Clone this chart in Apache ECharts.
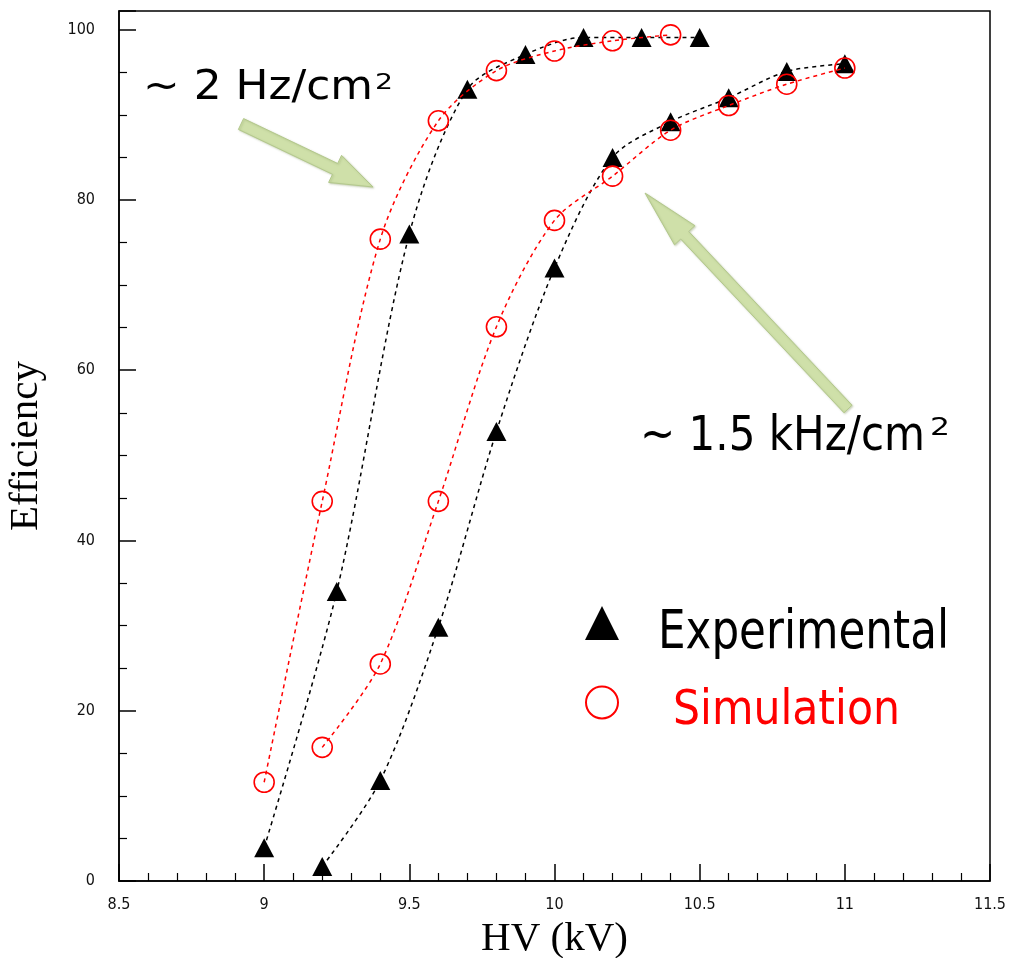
<!DOCTYPE html>
<html>
<head>
<meta charset="utf-8">
<script src="https://cdn.jsdelivr.net/npm/echarts@6/dist/echarts.min.js"></script>
<style>
html,body{margin:0;padding:0;background:#fff;overflow:hidden;}
#chart{width:1011px;height:958px;}
</style>
</head>
<body>
<div id="chart"></div>
<script>
// ---- data ----
const xTicks = ['8.5', '9', '9.5', '10', '10.5', '11', '11.5'];
const yTicks = ['0', '20', '40', '60', '80', '100'];

// ~2 Hz/cm2 rate
const hvExpLow  = [9.0, 9.25, 9.5, 9.7, 9.9, 10.1, 10.3, 10.5];
const effExpLow = [3.9, 34.0, 76.0, 93.0, 97.1, 99.1, 99.1, 99.1];
const hvSimLow  = [9.0, 9.2, 9.4, 9.6, 9.8, 10.0, 10.2, 10.4];
const effSimLow = [11.6, 44.6, 75.4, 89.3, 95.2, 97.5, 98.7, 99.4];

// ~1.5 kHz/cm2 rate
const hvExpHigh  = [9.2, 9.4, 9.6, 9.8, 10.0, 10.2, 10.4, 10.6, 10.8, 11.0];
const effExpHigh = [1.7, 11.8, 29.8, 52.8, 72.0, 85.0, 89.2, 92.0, 95.1, 96.0];
const hvSimHigh  = [9.2, 9.4, 9.6, 9.8, 10.0, 10.2, 10.4, 10.6, 10.8, 11.0];
const effSimHigh = [15.7, 25.5, 44.6, 65.1, 77.6, 82.8, 88.2, 91.1, 93.6, 95.5];

const labelLow  = '~ 2 Hz/cm';
const labelHigh = '~ 1.5 kHz/cm';
const labelSup  = '2';
const legendExp = 'Experimental';
const legendSim = 'Simulation';

// ---- helpers ----
const zip = (xs, ys) => xs.map((x, i) => [x, ys[i]]);
const TXT_FONT = '"DejaVu Sans", "Noto Sans", sans-serif';
const mctx = document.createElement('canvas').getContext('2d');
function fitText(text, size, left, baseline, targetW, color) {
  mctx.font = size + 'px ' + TXT_FONT;
  const w = mctx.measureText(text).width;
  return {
    type: 'text', x: left, y: baseline - 0.33 * size,
    scaleX: targetW / w, z: 50,
    style: { text: text, fill: color, font: size + 'px ' + TXT_FONT,
             textAlign: 'left', textVerticalAlign: 'middle' }
  };
}
function arrow(tail, tip, shaftW, headW, headL) {
  const dx = tip[0] - tail[0], dy = tip[1] - tail[1];
  const L = Math.hypot(dx, dy), ux = dx / L, uy = dy / L, nx = -uy, ny = ux;
  const bx = tip[0] - ux * headL, by = tip[1] - uy * headL;
  const p = (x, y, s) => [x + nx * s, y + ny * s];
  const pts = [
    p(tail[0], tail[1], shaftW / 2), p(bx, by, shaftW / 2), p(bx, by, headW / 2),
    tip,
    p(bx, by, -headW / 2), p(bx, by, -shaftW / 2), p(tail[0], tail[1], -shaftW / 2)
  ];
  return {
    type: 'polygon', z: 40,
    shape: { points: pts },
    style: { fill: '#cfe0a9', stroke: '#b3c88c', lineWidth: 1,
             shadowColor: 'rgba(120,140,80,0.35)', shadowBlur: 2, shadowOffsetX: 1, shadowOffsetY: 1 }
  };
}

const chart = echarts.init(document.getElementById('chart'), null, { renderer: 'canvas' });

const tickFont = { fontFamily: '"Liberation Sans Narrow", "DejaVu Sans Condensed", sans-serif', fontSize: 16, color: '#111' };

const expLine = { color: '#000', width: 1.5, type: [4, 4] };
const simLine = { color: '#ff0000', width: 1.5, type: [4, 4] };
const expItem = { color: '#000' };
const simItem = { color: 'rgba(0,0,0,0)', borderColor: '#ff0000', borderWidth: 1.6 };

const option = {
  backgroundColor: '#fff',
  animation: false,
  grid: { left: 119, right: 21, top: 11, bottom: 77, outerBoundsMode: 'none', containLabel: false,
          show: true, borderColor: '#000', borderWidth: 1.5, backgroundColor: 'transparent' },
  xAxis: {
    type: 'value', min: 8.5, max: 11.5, interval: 0.5,
    name: 'HV (kV)', nameLocation: 'middle', nameGap: 38,
    nameTextStyle: { fontFamily: '"Liberation Serif", serif', fontSize: 41, color: '#000' },
    axisLine: { show: true, lineStyle: { color: '#000', width: 1.5 } },
    axisTick: { show: true, inside: true, length: 17, lineStyle: { color: '#000', width: 1.5 } },
    minorTick: { show: true, splitNumber: 5, length: 8, lineStyle: { color: '#000', width: 1.2 } },
    splitLine: { show: false },
    axisLabel: Object.assign({ margin: 16, formatter: v => {
      const i = Math.round((v - 8.5) / 0.5);
      return Math.abs(v - (8.5 + i * 0.5)) < 1e-6 ? xTicks[i] : '';
    } }, tickFont)
  },
  yAxis: {
    type: 'value', min: 0, max: 102.2, interval: 20,
    name: 'Efficiency', nameLocation: 'middle', nameGap: 72,
    nameTextStyle: { fontFamily: '"Liberation Serif", serif', fontSize: 41, color: '#000' },
    axisLine: { show: true, lineStyle: { color: '#000', width: 1.5 } },
    axisTick: { show: true, inside: true, length: 17, lineStyle: { color: '#000', width: 1.5 } },
    minorTick: { show: true, splitNumber: 4, length: 8, lineStyle: { color: '#000', width: 1.2 } },
    splitLine: { show: false },
    axisLabel: Object.assign({ margin: 24, showMaxLabel: false, formatter: v => {
      const i = Math.round(v / 20);
      return Math.abs(v - i * 20) < 1e-6 && i < yTicks.length ? yTicks[i] : '';
    } }, tickFont)
  },
  series: [
    { name: legendExp, type: 'line', data: zip(hvExpLow, effExpLow), smooth: 0.3,
      symbol: 'triangle', symbolSize: [20, 19], lineStyle: expLine, itemStyle: expItem, z: 3 },
    { name: legendExp, type: 'line', data: zip(hvExpHigh, effExpHigh), smooth: 0.3,
      symbol: 'triangle', symbolSize: [20, 19], lineStyle: expLine, itemStyle: expItem, z: 3 },
    { name: legendSim, type: 'line', data: zip(hvSimLow, effSimLow), smooth: 0.3,
      symbol: 'circle', symbolSize: 20, lineStyle: simLine, itemStyle: simItem, z: 4 },
    { name: legendSim, type: 'line', data: zip(hvSimHigh, effSimHigh), smooth: 0.3,
      symbol: 'circle', symbolSize: 20, lineStyle: simLine, itemStyle: simItem, z: 4 }
  ],
  graphic: [
    arrow([241, 124], [373, 187], 12, 30, 42),
    arrow([848, 409], [645, 193], 11, 28, 58),
    fitText(labelLow, 40, 143, 102, 230, '#000'),
    fitText(labelSup, 21, 375, 90, 18, '#000'),
    fitText(labelHigh, 48, 640, 453, 285, '#000'),
    fitText(labelSup, 25, 930, 437, 20, '#000'),
    // legend
    { type: 'polygon', z: 50, shape: { points: [[602, 606], [619, 640], [585, 640]] }, style: { fill: '#000' } },
    { type: 'circle', z: 50, shape: { cx: 602, cy: 702.5, r: 16 }, style: { fill: 'none', stroke: '#ff0000', lineWidth: 2 } },
    fitText(legendExp, 53, 658, 652, 291, '#000'),
    fitText(legendSim, 48, 673, 727, 227, '#ff0000')
  ]
};
chart.setOption(option);
</script>
</body>
</html>
